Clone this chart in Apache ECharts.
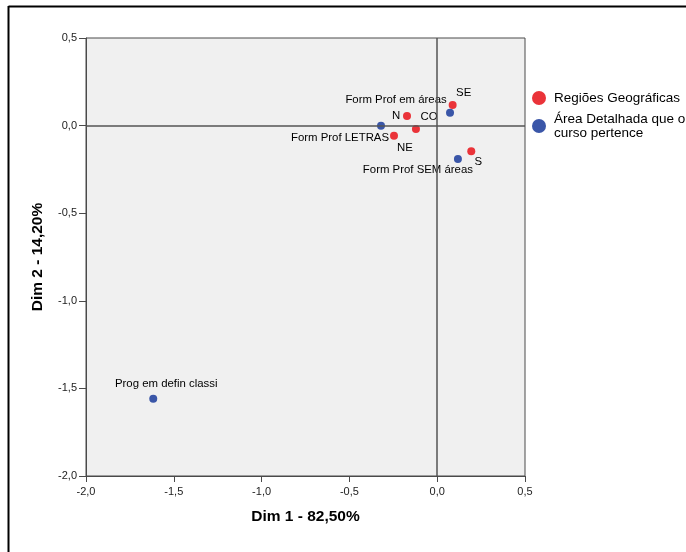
<!DOCTYPE html>
<html><head><meta charset="utf-8">
<script src="https://cdn.jsdelivr.net/npm/echarts@6/dist/echarts.min.js"></script>
<style>html,body{margin:0;padding:0;background:#fff}#c{width:686px;height:552px}</style>
</head><body><div id="c"></div>
<script>
// Data
const regionNames = ['SE', 'N', 'CO', 'NE', 'S'];
const regionDim1 = [0.088, -0.172, -0.121, -0.246, 0.194];
const regionDim2 = [0.118, 0.055, -0.019, -0.058, -0.147];
const areaNames = ['Form Prof em áreas', 'Form Prof LETRAS', 'Form Prof SEM áreas', 'Prog em defin classi'];
const areaDim1 = [0.073, -0.320, 0.118, -1.617];
const areaDim2 = [0.074, -0.001, -0.191, -1.559];
const xTicks = ['-2,0', '-1,5', '-1,0', '-0,5', '0,0', '0,5'];
const seriesNames = ['Regiões Geográficas', 'Área Detalhada que o curso pertence'];

// label offsets (layout only)
const regionLabelOffsets = {'SE': [11, -12], 'N': [-11, 0], 'CO': [13, -12], 'NE': [11, 12], 'S': [7, 11]};
const areaLabelOffsets = {'Form Prof em áreas': [-54, -13], 'Form Prof LETRAS': [-41, 12], 'Form Prof SEM áreas': [-40, 11], 'Prog em defin classi': [13, -15]};

const FONT = 'Liberation Sans, Arial, sans-serif';
function build(names, xs, ys, offs) {
  return names.map((n, i) => ({
    value: [xs[i], ys[i]], name: n,
    label: {show: true, position: 'inside', offset: offs[n], formatter: n, color: '#000',
      fontFamily: FONT, fontSize: 11.4}
  }));
}
const fmt = v => v.toFixed(1).replace('.', ',');

const chart = echarts.init(document.getElementById('c'));
chart.setOption({
  animation: false,
  backgroundColor: '#fff',
  grid: {left: 86, top: 38, width: 439, height: 438, show: true, backgroundColor: '#f0f0f0', borderColor: '#4a4a4a', borderWidth: 1},
  xAxis: {
    type: 'value', min: -2, max: 0.5, interval: 0.5,
    name: 'Dim 1 - 82,50%', nameLocation: 'middle', nameGap: 33,
    nameTextStyle: {fontFamily: FONT, fontSize: 15.5, fontWeight: 'bold', color: '#000'},
    axisLine: {show: true, onZero: false, lineStyle: {color: '#4a4a4a'}},
    axisTick: {show: true, length: 6, lineStyle: {color: '#4a4a4a'}},
    axisLabel: {formatter: v => xTicks[Math.round((v + 2) / 0.5)], color: '#222', fontFamily: FONT, fontSize: 11, margin: 10},
    splitLine: {show: false}
  },
  yAxis: {
    type: 'value', min: -2, max: 0.5, interval: 0.5,
    name: 'Dim 2 - 14,20%', nameLocation: 'middle', nameGap: 40,
    nameTextStyle: {fontFamily: FONT, fontSize: 15.5, fontWeight: 'bold', color: '#000'},
    axisLine: {show: true, onZero: false, lineStyle: {color: '#4a4a4a'}},
    axisTick: {show: true, length: 7, lineStyle: {color: '#4a4a4a'}},
    axisLabel: {formatter: fmt, color: '#222', fontFamily: FONT, fontSize: 11, margin: 9},
    splitLine: {show: false}
  },
  legend: {
    orient: 'vertical', left: 532, top: 91, itemWidth: 14, itemHeight: 14, itemGap: 7,
    icon: 'circle', padding: 0,
    formatter: n => n === seriesNames[1] ? 'Área Detalhada que o\ncurso pertence' : n,
    textStyle: {fontFamily: FONT, fontSize: 13.5, color: '#000', lineHeight: 14, padding: [0, 0, 0, 3]},
    data: seriesNames
  },
  series: [
    {
      name: seriesNames[0], type: 'scatter', symbolSize: 8,
      itemStyle: {color: '#ea3339', opacity: 1},
      data: build(regionNames, regionDim1, regionDim2, regionLabelOffsets),
      z: 3,
      markLine: {
        silent: true, symbol: 'none', label: {show: false},
        lineStyle: {color: '#555', width: 1.5, type: 'solid'},
        data: [{xAxis: 0}, {yAxis: 0}]
      }
    },
    {
      name: seriesNames[1], type: 'scatter', symbolSize: 8,
      itemStyle: {color: '#3a56a8', opacity: 1},
      data: build(areaNames, areaDim1, areaDim2, areaLabelOffsets),
      z: 3
    }
  ],
  graphic: [
    {type: 'line', shape: {x1: 8.5, y1: 6.5, x2: 686, y2: 6.5}, style: {stroke: '#000', lineWidth: 2}},
    {type: 'line', shape: {x1: 8.5, y1: 6, x2: 8.5, y2: 552}, style: {stroke: '#000', lineWidth: 2}}
  ]
});
</script></body></html>
